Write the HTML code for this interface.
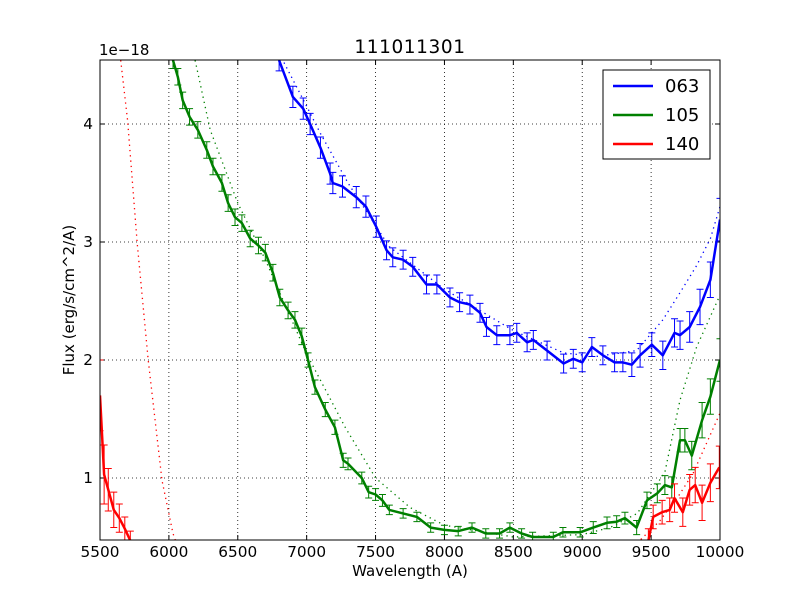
<!DOCTYPE html>
<html><head><meta charset="utf-8"><style>
body{margin:0;background:#fff;width:800px;height:600px;overflow:hidden}
svg{font-family:"DejaVu Sans","Liberation Sans",sans-serif}
</style></head><body>
<svg id="chart" width="800" height="600" xmlns="http://www.w3.org/2000/svg">
<defs><clipPath id="plotclip"><rect x="100" y="60" width="620" height="480"/></clipPath></defs>
<rect x="0" y="0" width="800" height="600" fill="#fff"/>
<text x="410" y="53" font-size="18.5" letter-spacing="0.6" text-anchor="middle">111011301</text>
<text x="99" y="55" font-size="15">1e−18</text>
<text x="410" y="576" font-size="15" text-anchor="middle">Wavelength (A)</text>
<text transform="translate(74,300) rotate(-90)" font-size="15" text-anchor="middle">Flux (erg/s/cm^2/A)</text>
<g id="grid"></g><g id="ticks"></g>
<g id="series" clip-path="url(#plotclip)"></g>
<rect x="100" y="60" width="620" height="480" fill="none" stroke="#000" stroke-width="1"/>
<g id="legend">
<rect x="603" y="70" width="107" height="89" fill="#fff" stroke="#000" stroke-width="1"/>
</g>
</svg>
<script>
const xTicks=[5500,6000,6500,7000,7500,8000,8500,9000,9500,10000];
const yTicks=[1,2,3,4];
const seriesNames=["063","105","140"];
const seriesColors=["#0000ff","#008000","#ff0000"];
const blueX=[6800,6900,6975,7025,7100,7170,7190,7260,7360,7430,7505,7580,7625,7700,7770,7870,7945,8040,8110,8185,8258,8305,8380,8475,8525,8600,8645,8745,8865,8935,9000,9070,9150,9235,9295,9360,9420,9505,9585,9670,9710,9780,9855,9930,10000];
const blueY=[4.54,4.23,4.13,4.0,3.8,3.58,3.5,3.47,3.38,3.3,3.13,2.93,2.87,2.85,2.79,2.64,2.64,2.53,2.49,2.47,2.4,2.28,2.21,2.21,2.23,2.15,2.17,2.08,1.97,2.01,1.98,2.11,2.04,1.98,1.98,1.96,2.04,2.13,2.04,2.23,2.21,2.28,2.45,2.68,3.19];
const blueErr=[0.09,0.09,0.09,0.09,0.09,0.09,0.09,0.09,0.09,0.09,0.09,0.08,0.08,0.08,0.08,0.08,0.08,0.08,0.08,0.08,0.08,0.08,0.08,0.08,0.08,0.08,0.08,0.08,0.08,0.08,0.08,0.08,0.08,0.08,0.08,0.1,0.1,0.1,0.12,0.12,0.12,0.13,0.15,0.15,0.18];
const greenX=[6030,6065,6100,6150,6210,6275,6320,6385,6430,6480,6530,6590,6650,6700,6755,6805,6865,6915,6965,7010,7060,7135,7205,7265,7300,7400,7450,7500,7550,7600,7700,7800,7900,8000,8100,8200,8300,8400,8475,8560,8640,8790,8860,8985,9080,9180,9250,9310,9395,9470,9545,9600,9650,9710,9745,9795,9870,9930,10000];
const greenY=[4.54,4.4,4.2,4.06,3.95,3.78,3.64,3.5,3.33,3.21,3.16,3.03,2.97,2.91,2.74,2.53,2.42,2.34,2.2,2.0,1.77,1.58,1.43,1.15,1.12,1.0,0.88,0.86,0.81,0.73,0.7,0.67,0.58,0.56,0.55,0.58,0.53,0.53,0.58,0.53,0.5,0.5,0.54,0.54,0.58,0.62,0.63,0.66,0.58,0.81,0.87,0.94,0.92,1.32,1.32,1.19,1.49,1.69,2.0];
const greenErr=[0.07,0.07,0.07,0.07,0.07,0.07,0.07,0.07,0.07,0.07,0.07,0.07,0.07,0.07,0.07,0.07,0.07,0.07,0.07,0.06,0.06,0.06,0.06,0.06,0.05,0.05,0.05,0.05,0.05,0.04,0.04,0.04,0.04,0.04,0.04,0.04,0.04,0.04,0.04,0.04,0.04,0.04,0.04,0.04,0.05,0.05,0.05,0.05,0.06,0.07,0.08,0.08,0.09,0.1,0.1,0.12,0.15,0.15,0.18];
const redX=[5500,5530,5560,5600,5640,5680,5720,5800,6200,7000,8000,9000,9400,9480,9515,9580,9635,9670,9730,9780,9820,9870,9930,9995];
const redY=[1.7,1.03,0.9,0.73,0.66,0.57,0.47,0.35,0.2,0.15,0.15,0.2,0.35,0.47,0.67,0.71,0.73,0.83,0.71,0.9,0.94,0.79,0.96,1.09];
const redErr=[0.3,0.25,0.18,0.15,0.12,0.1,0.08,0.05,0.05,0.05,0.05,0.05,0.08,0.1,0.1,0.1,0.1,0.12,0.12,0.13,0.15,0.15,0.16,0.18];
const blueFitX=[6800,7000,7100,7300,7600,8000,8500,8865,9100,9395,9585,9710,9830,9930,10000];
const blueFitY=[4.6,4.15,3.92,3.5,2.96,2.6,2.25,2.06,2.03,2.08,2.34,2.57,2.8,3.03,3.3];
const greenFitX=[6190,6300,6500,6700,7000,7280,7500,7750,8000,8500,9000,9200,9400,9600,9710,9830,10000];
const greenFitY=[4.54,3.95,3.33,2.85,2.05,1.43,1.0,0.75,0.6,0.5,0.52,0.58,0.7,1.05,1.66,2.11,2.55];
const redFitX=[5650,5700,5770,5850,5950,6030,6100,9200,9400,9565,9700,9805,10000];
const redFitY=[4.54,4.03,2.99,2.0,0.98,0.53,0.3,0.3,0.45,0.64,0.85,1.04,1.55];

const NS="http://www.w3.org/2000/svg";
const X=v=>100+(v-5500)*620/4500;
const Y=v=>124+(4-v)*118;
const svg=document.getElementById('chart');
const grid=document.getElementById('grid'),ticks=document.getElementById('ticks'),ser=document.getElementById('series'),leg=document.getElementById('legend');
function mk(tag,attrs,parent){const e=document.createElementNS(NS,tag);for(const k in attrs)e.setAttribute(k,attrs[k]);parent.appendChild(e);return e;}
xTicks.forEach(t=>{const x=X(t);
 if(t>5500&&t<10000){const g=mk('line',{x1:x,x2:x,y1:60,y2:540,stroke:'#000','stroke-width':0.8,'stroke-dasharray':'1,3'},grid);
 
 }
 mk('line',{x1:x,x2:x,y1:540,y2:535,stroke:'#000'},ticks);mk('line',{x1:x,x2:x,y1:60,y2:65,stroke:'#000'},ticks);
 const l=mk('text',{x:x,y:557,'font-size':15.3,'text-anchor':'middle'},ticks);l.textContent=t;
 
 });
yTicks.forEach(t=>{const y=Y(t);
 const g=mk('line',{x1:100,x2:720,y1:y,y2:y,stroke:'#000','stroke-width':0.8,'stroke-dasharray':'1,3'},grid);
 
 
 mk('line',{x1:100,x2:105,y1:y,y2:y,stroke:'#000'},ticks);mk('line',{x1:720,x2:715,y1:y,y2:y,stroke:'#000'},ticks);
 const l=mk('text',{x:93,y:y+5,'font-size':15.3,'text-anchor':'end'},ticks);l.textContent=t;
 
 });
function pts(xs,ys){return xs.map((v,i)=>X(v).toFixed(1)+','+Y(ys[i]).toFixed(1)).join(' ');}
const fits=[[blueFitX,blueFitY],[greenFitX,greenFitY],[redFitX,redFitY]];
fits.forEach((f,i)=>{const p=mk('polyline',{points:pts(f[0],f[1]),fill:'none',stroke:seriesColors[i],'stroke-width':1.3,'stroke-dasharray':'1.3,4'},ser);
 
 });
const data=[[blueX,blueY,blueErr],[greenX,greenY,greenErr],[redX,redY,redErr]];
data.forEach((d,i)=>{const c=seriesColors[i];
 d[0].forEach((xv,j)=>{const x=X(xv),y1=Y(d[1][j]+d[2][j]),y2=Y(d[1][j]-d[2][j]);
  const e=mk('path',{d:`M${x},${y1}V${y2}M${x-3.5},${y1}H${x+3.5}M${x-3.5},${y2}H${x+3.5}`,stroke:c,'stroke-width':1,fill:'none'},ser);
  
  });
 const p=mk('polyline',{points:pts(d[0],d[1]),fill:'none',stroke:c,'stroke-width':2.5,'stroke-linejoin':'round'},ser);
 
 });
seriesNames.forEach((n,i)=>{const y=86+i*29;
 const g=mk('g',{},leg);
 
 
 mk('line',{x1:613,x2:653,y1:y,y2:y,stroke:seriesColors[i],'stroke-width':2.5},g);
 const t=mk('text',{x:665,y:y+6,'font-size':18},g);t.textContent=n;});
</script>
</body></html>
